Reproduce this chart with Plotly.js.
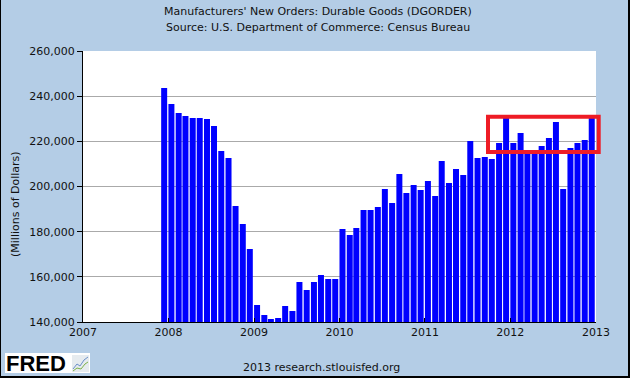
<!DOCTYPE html>
<html>
<head>
<meta charset="utf-8">
<script src="https://cdn.plot.ly/plotly-3.0.1.min.js"></script>
<style>
  html, body { margin: 0; padding: 0; background: #ffffff; }
  #frame { position: absolute; left: 0; top: 0; width: 627px; height: 376px;
           border-left: 1px solid #000; border-right: 2px solid #000; border-bottom: 2px solid #000; }
  #chart { width: 627px; height: 376px; }
</style>
</head>
<body>
<div id="frame"><div id="chart"></div></div>
<script>
// Monthly observations (first day of month), Dec 2007 - Dec 2012
const months = [
  '2007-12-01',
  '2008-01-01','2008-02-01','2008-03-01','2008-04-01','2008-05-01','2008-06-01',
  '2008-07-01','2008-08-01','2008-09-01','2008-10-01','2008-11-01','2008-12-01',
  '2009-01-01','2009-02-01','2009-03-01','2009-04-01','2009-05-01','2009-06-01',
  '2009-07-01','2009-08-01','2009-09-01','2009-10-01','2009-11-01','2009-12-01',
  '2010-01-01','2010-02-01','2010-03-01','2010-04-01','2010-05-01','2010-06-01',
  '2010-07-01','2010-08-01','2010-09-01','2010-10-01','2010-11-01','2010-12-01',
  '2011-01-01','2011-02-01','2011-03-01','2011-04-01','2011-05-01','2011-06-01',
  '2011-07-01','2011-08-01','2011-09-01','2011-10-01','2011-11-01','2011-12-01',
  '2012-01-01','2012-02-01','2012-03-01','2012-04-01','2012-05-01','2012-06-01',
  '2012-07-01','2012-08-01','2012-09-01','2012-10-01','2012-11-01','2012-12-01'
];
// Millions of dollars
const orders = [
  243600,
  236500, 232500, 231200, 230300, 230300, 229900, 226800, 215700, 212600, 191400, 183400, 172300,
  147500, 143100, 141300, 141800, 147100, 144900, 157700, 154200, 157700, 160800, 159000, 159000,
  181200, 178500, 181600, 189600, 189600, 190900, 198900, 192700, 205500, 197100, 200700, 198500,
  202400, 195800, 211300, 201600, 207800, 205100, 220100, 212600, 213100, 212200, 219300, 230300,
  219300, 223700, 215000, 214500, 217900, 221500, 228600, 198900, 217000, 219300, 220600, 230800
];
const yearTicks = ['2007-01-01','2008-01-01','2009-01-01','2010-01-01','2011-01-01','2012-01-01','2013-01-01'];
const yearLabels = ['2007','2008','2009','2010','2011','2012','2013'];
const titleLines = [
  "Manufacturers' New Orders: Durable Goods (DGORDER)",
  "Source: U.S. Department of Commerce: Census Bureau"
];

// layout geometry (pixels inside the figure)
const W = 627, H = 376;
const M = { l: 82, r: 32, t: 51, b: 54 };
const PW = W - M.l - M.r, PH = H - M.t - M.b;
const px = x => (x - M.l) / PW;          // figure px -> paper x
const py = y => (H - M.b - y) / PH;       // figure px -> paper y

const FONT = 'DejaVu Sans, Verdana, sans-serif';
const BG = '#B4CDE6';
const DAY = 86400000;

const trace = {
  type: 'bar',
  x: months,
  y: orders,
  offset: 0,
  width: months.map(() => 25.6 * DAY),
  marker: { color: '#0000FF', line: { width: 0 } },
  hoverinfo: 'skip'
};

const textFont = { family: FONT, size: 11, color: '#111' };

const layout = {
  width: W, height: H,
  margin: M,
  paper_bgcolor: BG,
  plot_bgcolor: '#FFFFFF',
  showlegend: false,
  xaxis: {
    type: 'date',
    range: ['2007-01-01', '2013-01-01'],
    tickvals: yearTicks,
    ticktext: yearLabels,
    ticks: 'inside', ticklen: 4, tickwidth: 1, tickcolor: '#000',
    showgrid: false, zeroline: false,
    showline: true, linecolor: '#000', linewidth: 1,
    tickfont: textFont,
    fixedrange: true
  },
  yaxis: {
    range: [140000, 260000],
    tick0: 140000, dtick: 20000,
    tickformat: ',d',
    ticks: 'outside', ticklen: 5, tickwidth: 1, tickcolor: '#000',
    showgrid: true, gridcolor: '#AAAAAA', gridwidth: 1,
    zeroline: false,
    showline: true, linecolor: '#000', linewidth: 1,
    tickfont: textFont,
    fixedrange: true
  },
  annotations: [
    { text: titleLines[0], xref: 'paper', yref: 'paper',
      x: px(317), y: py(12), xanchor: 'center', yanchor: 'middle',
      showarrow: false, font: textFont },
    { text: titleLines[1], xref: 'paper', yref: 'paper',
      x: px(317), y: py(27), xanchor: 'center', yanchor: 'middle',
      showarrow: false, font: textFont },
    { text: '(Millions of Dollars)', xref: 'paper', yref: 'paper',
      x: px(14), y: py(204), xanchor: 'center', yanchor: 'middle', textangle: -90,
      showarrow: false, font: textFont },
    { text: '2013 research.stlouisfed.org', xref: 'paper', yref: 'paper',
      x: px(320), y: py(367), xanchor: 'center', yanchor: 'middle',
      showarrow: false, font: textFont },
    { text: '<b>FRED</b>', xref: 'paper', yref: 'paper',
      x: px(3), y: py(363.5), xanchor: 'left', yanchor: 'middle',
      showarrow: false, font: { family: 'Liberation Sans, Arial, sans-serif', size: 22, color: '#000' } }
  ],
  shapes: [
    // highlight box
    { type: 'rect', xref: 'paper', yref: 'paper',
      x0: px(487), x1: px(597.7), y0: py(152), y1: py(116.7),
      line: { color: '#EE1C25', width: 4 }, fillcolor: 'rgba(0,0,0,0)', layer: 'above' },
    // FRED logo box
    { type: 'rect', xref: 'paper', yref: 'paper',
      x0: px(4), x1: px(89), y0: py(373), y1: py(353),
      line: { width: 0 }, fillcolor: '#FFFFFF', layer: 'above' },
    { type: 'rect', xref: 'paper', yref: 'paper',
      x0: px(71), x1: px(88), y0: py(372), y1: py(355),
      line: { width: 0 }, fillcolor: '#E6EBEF', layer: 'above' },
    { type: 'path', xref: 'paper', yref: 'paper', layer: 'above',
      path: `M ${px(72)} ${py(369)} L ${px(76)} ${py(364)} L ${px(79)} ${py(366)} L ${px(83)} ${py(360)} L ${px(87)} ${py(357)}`,
      line: { color: '#6A8FC8', width: 1 } },
    { type: 'path', xref: 'paper', yref: 'paper', layer: 'above',
      path: `M ${px(72)} ${py(371)} L ${px(76)} ${py(368)} L ${px(80)} ${py(369)} L ${px(84)} ${py(364)} L ${px(87)} ${py(362)}`,
      line: { color: '#7DB24A', width: 1 } }
  ]
};

Plotly.newPlot('chart', [trace], layout, { staticPlot: true, displayModeBar: false });
</script>
</body>
</html>
